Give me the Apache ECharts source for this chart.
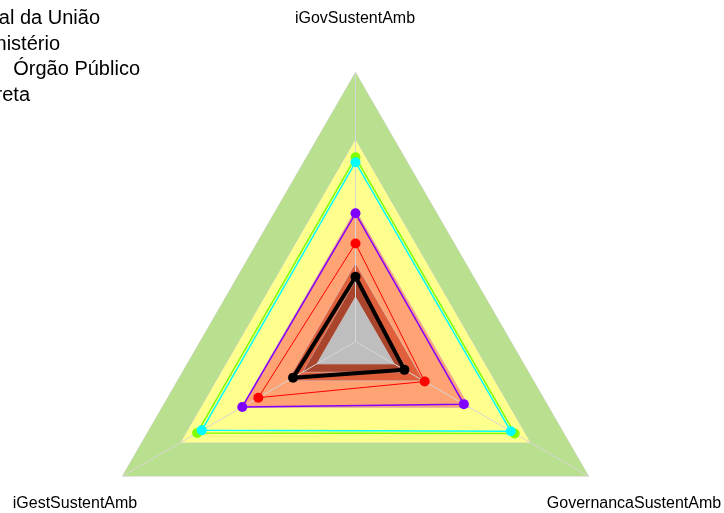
<!DOCTYPE html>
<html>
<head>
<meta charset="utf-8">
<script src="https://cdn.jsdelivr.net/npm/echarts@6/dist/echarts.min.js"></script>
<style>
html,body{margin:0;padding:0;background:#fff;}
#chart{width:724px;height:513px;}
</style>
</head>
<body>
<div id="chart"></div>
<script>
// Indicators (counter-clockwise from top: top, lower-left, lower-right)
const indicators = ['iGovSustentAmb', 'iGestSustentAmb', 'GovernancaSustentAmb'];

// Background bands (fraction of axis max)
const bandLevels = [1.0, 0.75, 0.49, 0.29, 0.225, 0.165];
const bandColors = ['#B9E08E', '#FFFF8E', '#FFA274', '#E0603C', '#A9452D', '#BEBEBE'];

// Series values [iGovSustentAmb, iGestSustentAmb, GovernancaSustentAmb]
const seriesGreen  = [0.685, 0.680, 0.683];
const seriesCyan   = [0.667, 0.660, 0.667];
const seriesPurple = [0.477, 0.486, 0.465];
const seriesRed    = [0.365, 0.417, 0.297];
const seriesBlack  = [0.241, 0.268, 0.210];

// Legend texts (visible portion, left side cropped)
const legendTexts = ['al da União', 'nistério', ' Órgão Público', 'reta'];

const FONT = '"Liberation Sans", Arial, sans-serif';
const center = [355.5, 341.6];
const radius = 269;

const indicatorDefs = indicators.map(n => ({ name: n, min: 0, max: 1 }));

const radarBase = {
  center: center, radius: radius, startAngle: 90, shape: 'polygon',
  splitNumber: 1, indicator: indicatorDefs,
  axisName: { show: false },
  splitLine: { show: false }, splitArea: { show: false }
};

const series = [];
bandLevels.forEach((lv, i) => {
  series.push({
    type: 'radar', radarIndex: 0, z: 1, silent: true,
    symbol: 'none',
    lineStyle: { color: '#D0D0D0', width: 1 },
    areaStyle: { color: bandColors[i], opacity: 1 },
    data: [{ value: [lv, lv, lv], name: 'faixa' + (i + 1) }]
  });
});

const dataSeries = [
  { vals: seriesGreen,  color: '#80FF00', width: 1.5 },
  { vals: seriesCyan,   color: '#00FFFF', width: 1.5 },
  { vals: seriesPurple, color: '#8000FF', width: 1.5 },
  { vals: seriesRed,    color: '#FF0000', width: 1 },
  { vals: seriesBlack,  color: '#000000', width: 4 }
];
dataSeries.forEach((s, i) => {
  series.push({
    type: 'radar', radarIndex: 1, z: 10,
    symbol: 'circle', symbolSize: 10,
    itemStyle: { color: s.color },
    lineStyle: { color: s.color, width: s.width },
    data: [{ value: s.vals, name: 'serie' + (i + 1) }]
  });
});

const graphics = [];
graphics.push({ type: 'text', left: 'center', style: {} });
graphics.length = 0;
const nameStyle = { fill: '#000', font: '16px ' + FONT, textAlign: 'center', textVerticalAlign: 'middle' };
graphics.push({ type: 'text', x: 355, y: 19, style: Object.assign({ text: indicators[0] }, nameStyle) });
graphics.push({ type: 'text', x: 75, y: 504, style: Object.assign({ text: indicators[1] }, nameStyle) });
graphics.push({ type: 'text', x: 634, y: 504, style: Object.assign({ text: indicators[2] }, nameStyle) });

const legendRight = [100, 60, 140, 30];
const legendY = [18, 44, 69, 95];
legendTexts.forEach((t, i) => {
  graphics.push({ type: 'text', x: legendRight[i], y: legendY[i],
    style: { text: t, fill: '#000', font: '20px ' + FONT, textAlign: 'right', textVerticalAlign: 'middle' } });
});

const chart = echarts.init(document.getElementById('chart'), null, { renderer: 'canvas' });
chart.setOption({
  animation: false,
  backgroundColor: '#ffffff',
  radar: [
    Object.assign({}, radarBase, { z: 0, axisLine: { show: false } }),
    Object.assign({}, radarBase, { z: 5, axisLine: { show: true, lineStyle: { color: '#D6D6D6', width: 1 } } })
  ],
  series: series,
  graphic: graphics
});
</script>
</body>
</html>
